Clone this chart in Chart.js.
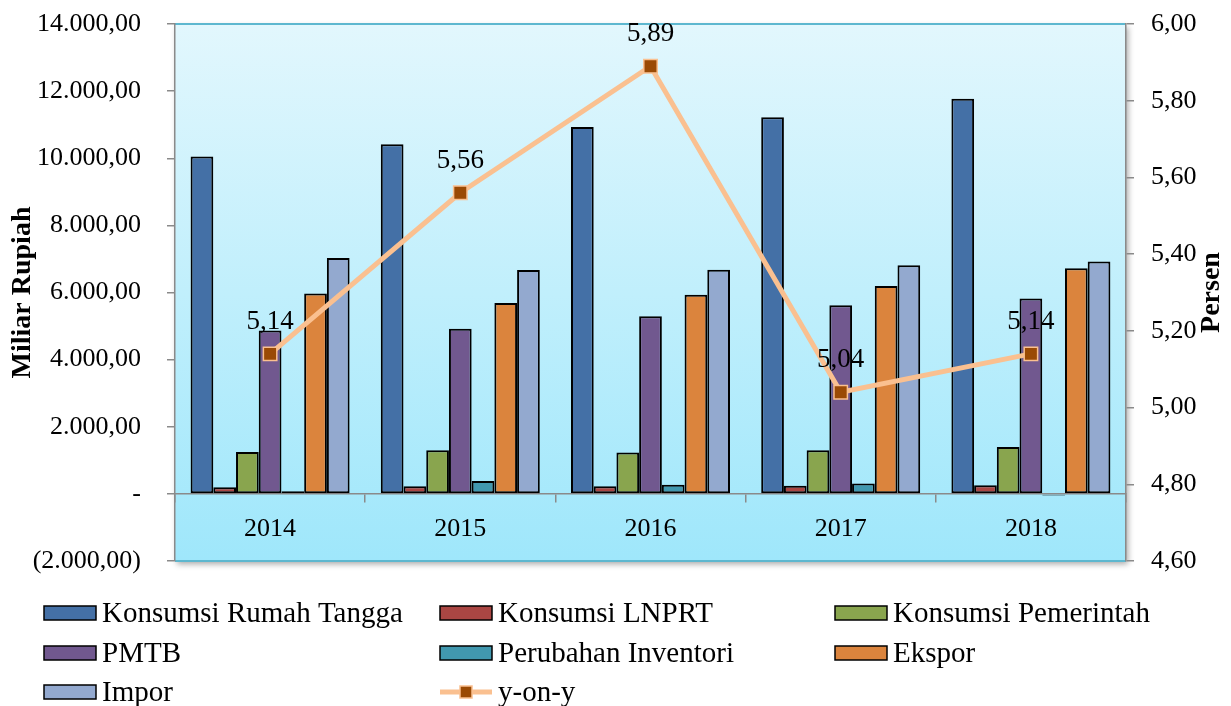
<!DOCTYPE html>
<html>
<head>
<meta charset="utf-8">
<script src="https://cdn.jsdelivr.net/npm/chart.js@4/dist/chart.umd.min.js"></script>
<style>
html,body{margin:0;padding:0;background:#fff;}
#wrap{width:1231px;height:706px;position:relative;}
</style>
</head>
<body>
<div id="wrap"><canvas id="c"></canvas></div>
<script>
// ---- Data ----
const categories = ['2014', '2015', '2016', '2017', '2018'];
const konsumsiRumahTangga = [10050, 10420, 10930, 11220, 11770];
const konsumsiLNPRT = [200, 230, 230, 240, 260];
const konsumsiPemerintah = [1250, 1300, 1230, 1300, 1400];
const pmtb = [4870, 4920, 5290, 5620, 5820];
const perubahanInventori = [80, 380, 270, 310, -50];
const ekspor = [5970, 5690, 5930, 6190, 6720];
const impor = [7030, 6670, 6680, 6810, 6920];
const yoy = [5.14, 5.56, 5.89, 5.04, 5.14];

const seriesLabels = ['Konsumsi Rumah Tangga', 'Konsumsi LNPRT', 'Konsumsi Pemerintah', 'PMTB', 'Perubahan Inventori', 'Ekspor', 'Impor', 'y-on-y'];
const leftAxisTitle = 'Miliar Rupiah';
const rightAxisTitle = 'Persen';
const leftMin = -2000, leftMax = 14000, leftStep = 2000;
const rightMin = 4.6, rightMax = 6.0, rightStep = 0.2;

// ---- Styles ----
const FONT = "'Liberation Serif', 'Times New Roman', serif";
const barColors = ['#4470A6', '#AA4643', '#89A54E', '#71588F', '#4198AF', '#DB843D', '#93A9CF'];
const lineColor = '#FAC090';
const markerFill = '#9A4A05';
const axisGray = '#8a8a8a';

function fmtLeft(v) {
  if (Math.abs(v) < 1e-9) return '-';
  const s = Math.abs(v).toFixed(2).split('.');
  const intPart = s[0].replace(/\B(?=(\d{3})+(?!\d))/g, '.');
  const str = intPart + ',' + s[1];
  return v < 0 ? '(' + str + ')' : str;
}
function fmtRight(v) { return v.toFixed(2).replace('.', ','); }

const barSeries = [konsumsiRumahTangga, konsumsiLNPRT, konsumsiPemerintah, pmtb, perubahanInventori, ekspor, impor];
const datasets = barSeries.map((arr, i) => ({
  type: 'bar',
  label: seriesLabels[i],
  data: arr,
  backgroundColor: barColors[i],
  borderColor: '#000',
  borderWidth: 2,
  borderSkipped: false,
  categoryPercentage: 0.836,
  barPercentage: 1.0,
  yAxisID: 'y',
  order: 1
}));
datasets.push({
  type: 'line',
  label: seriesLabels[7],
  data: yoy,
  yAxisID: 'y1',
  borderColor: lineColor,
  borderWidth: 5,
  pointStyle: 'rect',
  pointRadius: 9.5,
  pointHoverRadius: 9.5,
  pointBackgroundColor: markerFill,
  pointBorderColor: lineColor,
  pointBorderWidth: 1.5,
  tension: 0,
  order: 0
});

const bgPlugin = {
  id: 'plotBg',
  beforeDraw(chart) {
    const {ctx, chartArea: a} = chart;
    ctx.save();
    ctx.shadowColor = 'rgba(0,0,0,0.35)';
    ctx.shadowBlur = 6;
    ctx.shadowOffsetX = 2;
    ctx.shadowOffsetY = 3;
    const g = ctx.createLinearGradient(0, a.top, 0, a.bottom);
    g.addColorStop(0, '#e2f7fd');
    g.addColorStop(1, '#9fe7fb');
    ctx.fillStyle = g;
    ctx.fillRect(a.left, a.top, a.right - a.left, a.bottom - a.top);
    ctx.restore();
    ctx.save();
    ctx.strokeStyle = '#5db7cf';
    ctx.lineWidth = 2;
    ctx.beginPath();
    ctx.moveTo(a.left, a.top); ctx.lineTo(a.right, a.top);
    ctx.moveTo(a.left, a.bottom); ctx.lineTo(a.right, a.bottom);
    ctx.stroke();
    ctx.restore();
  }
};

const labelPlugin = {
  id: 'valueLabels',
  afterDatasetsDraw(chart) {
    const {ctx} = chart;
    const meta = chart.getDatasetMeta(7);
    ctx.save();
    ctx.font = '27px ' + FONT;
    ctx.fillStyle = '#000';
    ctx.textAlign = 'center';
    ctx.textBaseline = 'middle';
    meta.data.forEach((pt, i) => {
      ctx.fillText(fmtRight(yoy[i]), pt.x, pt.y - 32);
    });
    ctx.restore();
  }
};

const titlesPlugin = {
  id: 'axisTitles',
  afterDraw(chart) {
    const {ctx, chartArea: a} = chart;
    const cy = (a.top + a.bottom) / 2;
    ctx.save();
    ctx.font = 'bold 28px ' + FONT;
    ctx.fillStyle = '#000';
    ctx.textAlign = 'center';
    ctx.textBaseline = 'middle';
    [[23, leftAxisTitle], [1212, rightAxisTitle]].forEach(([x, t]) => {
      ctx.save();
      ctx.translate(x, cy);
      ctx.rotate(-Math.PI / 2);
      ctx.fillText(t, 0, 0);
      ctx.restore();
    });
    ctx.restore();
  }
};

const legendPlugin = {
  id: 'gridLegend',
  afterDraw(chart) {
    const {ctx} = chart;
    const colX = [44, 440, 835];
    const rowY = [613, 653, 692];
    const boxW = 52, boxH = 14;
    ctx.save();
    ctx.font = '29px ' + FONT;
    ctx.textAlign = 'left';
    ctx.textBaseline = 'middle';
    chart.data.datasets.forEach((ds, i) => {
      const x = colX[i % 3], y = rowY[Math.floor(i / 3)];
      if (ds.type === 'bar') {
        ctx.fillStyle = ds.backgroundColor;
        ctx.fillRect(x, y - boxH / 2, boxW, boxH);
        ctx.strokeStyle = '#000';
        ctx.lineWidth = 1.5;
        ctx.strokeRect(x, y - boxH / 2, boxW, boxH);
      } else {
        ctx.strokeStyle = ds.borderColor;
        ctx.lineWidth = 5;
        ctx.beginPath();
        ctx.moveTo(x, y); ctx.lineTo(x + boxW, y);
        ctx.stroke();
        ctx.fillStyle = ds.pointBackgroundColor;
        ctx.fillRect(x + boxW / 2 - 6, y - 6, 12, 12);
        ctx.strokeStyle = ds.pointBorderColor;
        ctx.lineWidth = 1.5;
        ctx.strokeRect(x + boxW / 2 - 6, y - 6, 12, 12);
      }
      ctx.fillStyle = '#000';
      ctx.fillText(ds.label, x + boxW + 6, y + 1);
    });
    ctx.restore();
  }
};

Chart.defaults.font.family = FONT;
Chart.defaults.color = '#000';

new Chart(document.getElementById('c'), {
  type: 'bar',
  data: { labels: categories, datasets: datasets },
  options: {
    responsive: true,
    maintainAspectRatio: false,
    animation: false,
    layout: { padding: { left: 0, right: 0, top: 24, bottom: 145 } },
    plugins: { legend: { display: false }, tooltip: { enabled: false } },
    scales: {
      x: {
        type: 'category',
        position: { y: 0 },
        offset: true,
        grid: { offset: true, drawOnChartArea: false, drawTicks: true, tickLength: 8, color: axisGray, lineWidth: 1.5 },
        border: { display: true, color: axisGray, width: 1.5 },
        ticks: { font: { size: 26 }, color: '#000', padding: 12, maxRotation: 0 }
      },
      y: {
        type: 'linear',
        position: 'left',
        min: leftMin, max: leftMax,
        ticks: { stepSize: leftStep, font: { size: 26 }, color: '#000', padding: 26, callback: v => fmtLeft(v) },
        grid: { drawOnChartArea: false, drawTicks: true, tickLength: 8, color: axisGray, lineWidth: 1.5 },
        border: { display: true, color: axisGray, width: 1.5 },
        afterFit(s) { s.width = 175; s.paddingTop = 10; s.paddingBottom = 10; }
      },
      y1: {
        type: 'linear',
        position: 'right',
        min: rightMin, max: rightMax,
        ticks: { stepSize: rightStep, font: { size: 26 }, color: '#000', padding: 17, callback: v => fmtRight(v) },
        grid: { drawOnChartArea: false, drawTicks: true, tickLength: 8, color: axisGray, lineWidth: 1.5 },
        border: { display: true, color: axisGray, width: 1.5 },
        afterFit(s) { s.width = 105; s.paddingTop = 10; s.paddingBottom = 10; }
      }
    }
  },
  plugins: [bgPlugin, labelPlugin, titlesPlugin, legendPlugin]
});
</script>
</body>
</html>
